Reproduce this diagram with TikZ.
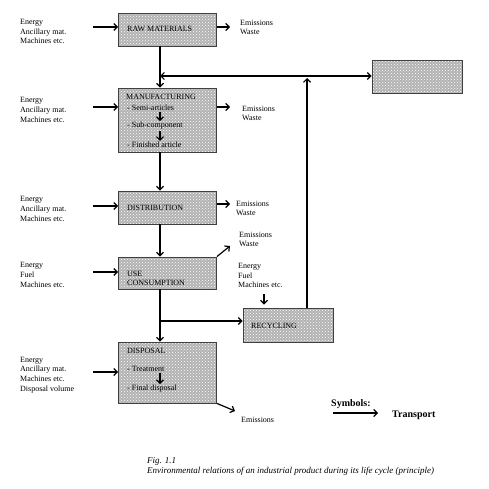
\documentclass[tikz,border=0pt]{standalone}
\usepackage{fontspec}
\setmainfont{Liberation Serif}
\usetikzlibrary{patterns, arrows.meta}
\tikzset{
    stage/.style={shape=rectangle, fill=black!30, line width=0.8pt,
        postaction={pattern=crosshatch dots, pattern color=white},
        postaction={draw=black!75}, inner sep=0pt},
    flow/.style={-{Straight Barb[length=3.5pt, width=7pt]}, line width=1.2pt},
    txt/.style={font=\fontsize{8}{9.7}\selectfont, align=left, inner sep=0pt, anchor=west},
    legend/.style={font=\fontsize{10}{11}\selectfont\bfseries, inner sep=0pt, anchor=west}}

\begin{document}
\begin{tikzpicture}[x=1pt, y=-1pt]

            \useasboundingbox (0,0) rectangle (489,489);

            % stages of the life cycle
            \node[stage, minimum width=98pt, minimum height=33pt] (R) at (167.5,29.5) {};
            \node[stage, minimum width=98pt, minimum height=64pt] (M) at (167.5,120) {};
            \node[stage, minimum width=98pt, minimum height=33pt] (D) at (167.5,207.5) {};
            \node[stage, minimum width=98pt, minimum height=32pt] (U) at (167.5,273) {};
            \node[stage, minimum width=98pt, minimum height=61pt] (P) at (167.5,372.5) {};
            \node[stage, minimum width=90pt, minimum height=34pt] (C) at (288,325) {};
            \node[stage, minimum width=90pt, minimum height=33pt] (B) at (417,76.5) {};

            % texts in the boxes
            \node[txt] (Rt) at (127,29) {RAW MATERIALS};
            \node[txt] (M0) at (126,97) {MANUFACTURING};
            \node[txt] (M1) at (127,108) {- Semi-articles};
            \node[txt] (M2) at (127,126) {- Sub-component};
            \node[txt] (M3) at (127,145) {- Finished article};
            \node[txt] (Dt) at (127,208) {DISTRIBUTION};
            \node[txt] (Ut) at (127,278.5) {USE\\CONSUMPTION};
            \node[txt] (Ct) at (251,326) {RECYCLING};
            \node[txt] (P0) at (127,351) {DISPOSAL};
            \node[txt] (P1) at (127,369) {- Treatment};
            \node[txt] (P2) at (127,389) {- Final disposal};

            % inputs
            \node[txt] (Rin) at (20,31.5) {Energy\\Ancillary mat.\\Machines etc.};
            \node[txt] (Min) at (20,110) {Energy\\Ancillary mat.\\Machines etc.};
            \node[txt] (Din) at (20,209) {Energy\\Ancillary mat.\\Machines etc.};
            \node[txt] (Uin) at (20,275) {Energy\\Fuel\\Machines etc.};
            \node[txt] (Pin) at (20,375) {Energy\\Ancillary mat.\\Machines etc.\\Disposal volume};
            \node[txt] (Cin) at (238,275.5) {Energy\\Fuel\\Machines etc.};

            % outputs
            \node[txt] (Rout) at (240,27.5) {Emissions\\Waste};
            \node[txt] (Mout) at (242,113.5) {Emissions\\Waste};
            \node[txt] (Dout) at (236,208.5) {Emissions\\Waste};
            \node[txt] (Uout) at (239,239.5) {Emissions\\Waste};
            \node[txt] (Pout) at (241,420) {Emissions};

            % arrow ends
            \coordinate (a1) at (93,27);
            \coordinate (a2) at (93,107);
            \coordinate (a3) at (93,206);
            \coordinate (a4) at (93,272);
            \coordinate (a5) at (93,372);
            \coordinate (b1) at (230,27);
            \coordinate (b2) at (230,107);
            \coordinate (b3) at (230,204);
            \coordinate (b4) at (230,246);
            \coordinate (b5) at (235,411);
            \coordinate (c1) at (264,294);
            \coordinate (back) at (160,76);
            \coordinate (split) at (160,321);

            \draw[flow] (a1) -- (a1 -| R.west);
            \draw[flow] (a2) -- (a2 -| M.west);
            \draw[flow] (a3) -- (a3 -| D.west);
            \draw[flow] (a4) -- (a4 -| U.west);
            \draw[flow] (a5) -- (a5 -| P.west);
            \draw[flow] (b1 -| R.east) -- (b1);
            \draw[flow] (b2 -| M.east) -- (b2);
            \draw[flow] (b3 -| D.east) -- (b3);
            \draw[flow] (U.north east) -- (b4);
            \draw[flow] (P.south east) -- (b5);
            \draw[flow, shorten >=3pt] (c1) -- (c1 |- C.north);

            % main flow
            \draw[flow] (R.south -| back) -- (M.north -| back);
            \draw[flow] (M.south -| back) -- (D.north -| back);
            \draw[flow] (D.south -| back) -- (U.north -| back);
            \draw[flow] (U.south -| back) -- (P.north -| back);
            \draw[flow] (split) -- (split -| C.west);
            \draw[flow, {Straight Barb[length=3.5pt, width=7pt]}-{Straight Barb[length=3.5pt, width=7pt]}] (back) -- (back -| B.west);
            \draw[flow, shorten >=2pt] ([xshift=19pt]C.north) -- ([xshift=19pt]C.north |- back);
            \draw[flow, shorten <=1pt, shorten >=1pt] (M1.south -| back) -- (M2.north -| back);
            \draw[flow, shorten <=1pt, shorten >=1pt] (M2.south -| back) -- (M3.north -| back);
            \draw[flow, shorten <=1pt, shorten >=1pt] (P1.south -| back) -- (P2.north -| back);

            % symbols
            \node[legend] (sym) at (331,404) {Symbols:};
            \node[legend] (tr) at (392,415) {Transport};
            \coordinate (l1) at (333,413);
            \draw[flow, shorten >=14pt] (l1) -- (l1 -| tr.west);

            % caption
            \node[font=\fontsize{9}{9.5}\selectfont\itshape, align=left, inner sep=0pt, anchor=west] (cap) at (147,466.5)
                {Fig. 1.1\\Environmental relations of an industrial product during its life cycle (principle)};

        \end{tikzpicture}
\end{document}
